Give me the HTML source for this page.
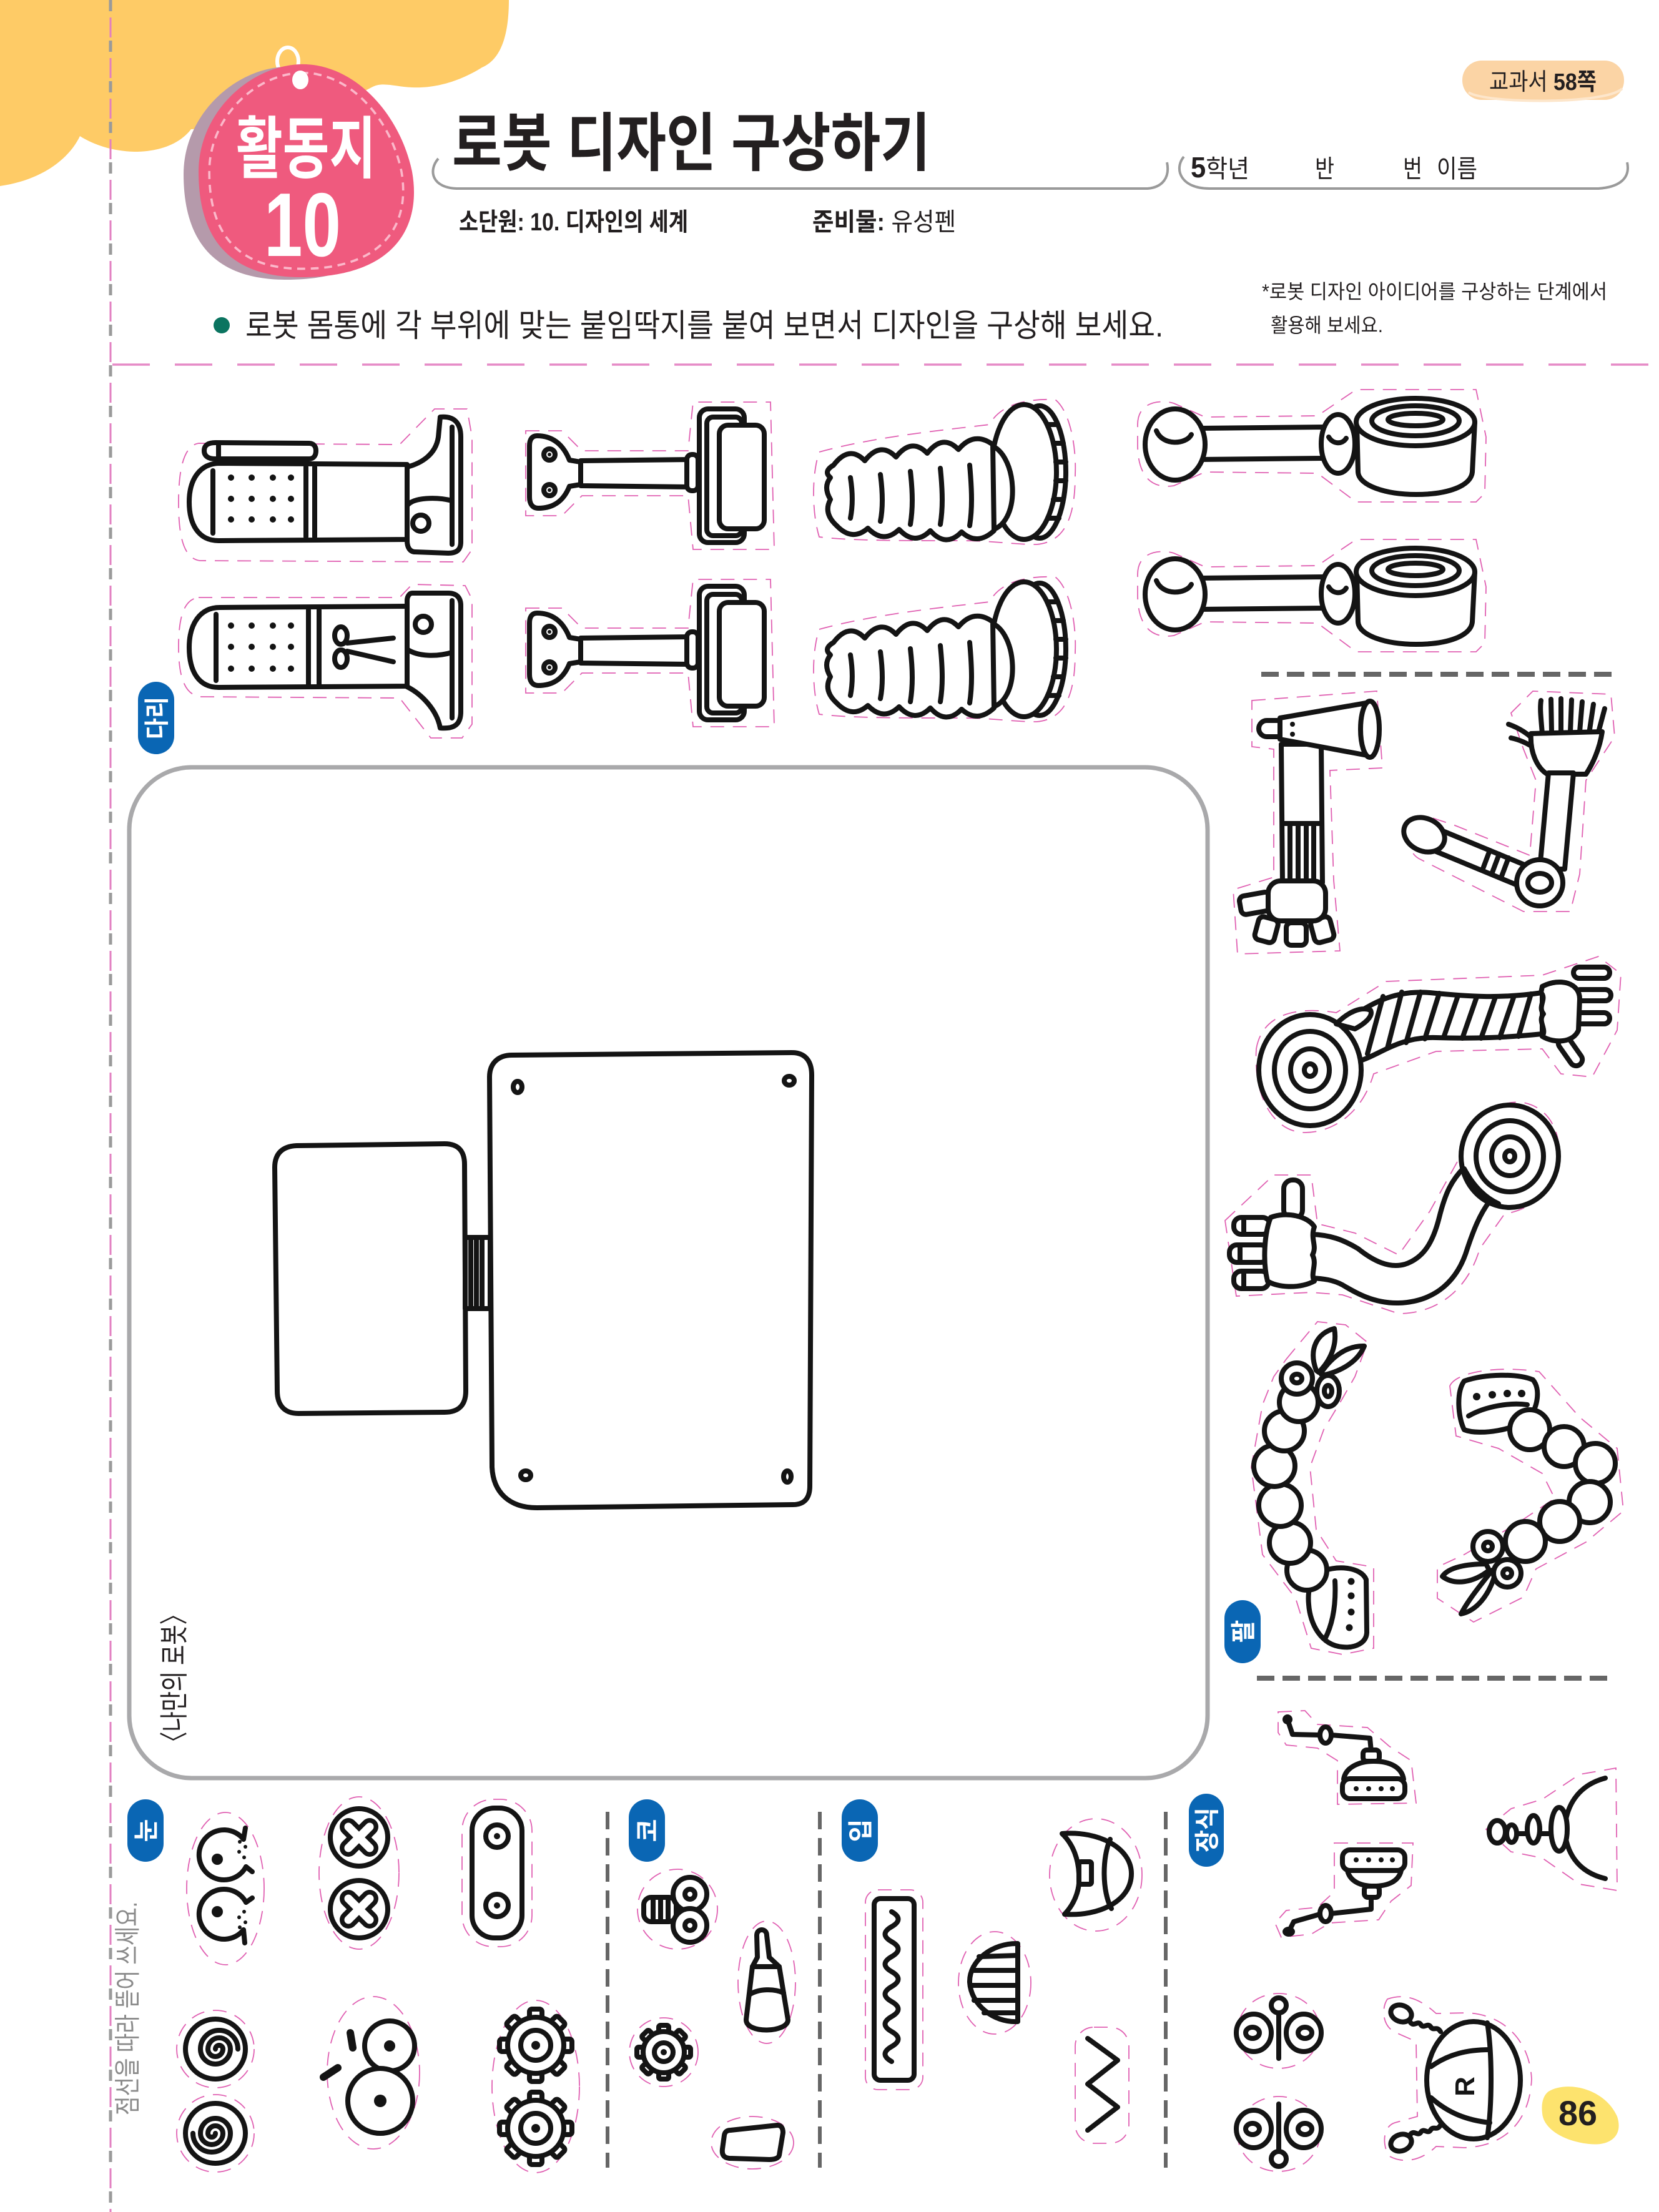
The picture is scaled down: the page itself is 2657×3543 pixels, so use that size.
<!DOCTYPE html>
<html><head><meta charset="utf-8">
<style>
html,body{margin:0;padding:0;background:#fff;}
body{width:2657px;height:3543px;overflow:hidden;position:relative;}
svg{position:absolute;left:0;top:0;}
.k{fill:none;stroke:#141414;stroke-width:8;stroke-linecap:round;stroke-linejoin:round}
.kw{fill:#fff;stroke:#141414;stroke-width:8;stroke-linecap:round;stroke-linejoin:round}
.pk{fill:none;stroke:#e060b2;stroke-width:1.8;stroke-dasharray:22 14}
.f{fill:#141414}
text{font-family:"Liberation Sans","Noto Sans CJK KR",sans-serif;}
</style></head><body>
<svg width="2657" height="3543" viewBox="0 0 2657 3543" xmlns="http://www.w3.org/2000/svg">

<!-- cloud -->
<path d="M0 0 H815 C815 55 803 95 772 108 C745 125 705 142 660 140 C632 139 612 130 595 140 L480 200 L306 207 C290 228 260 243 215 243 C180 242 150 232 128 218 C112 252 70 288 0 298 Z" fill="#fecb66"/>

<!-- vertical cut line -->
<line x1="177" y1="0" x2="177" y2="3543" stroke="#e27fc0" stroke-width="3" stroke-dasharray="32 33" stroke-dashoffset="-28"/>
<line x1="177" y1="0" x2="177" y2="3543" stroke="#9a9a9a" stroke-width="5" stroke-dasharray="18 47"/>

<!-- tag -->
<ellipse cx="461" cy="98" rx="17" ry="22" fill="none" stroke="#fff" stroke-width="6"/>
<path d="M480 103 C565 100 640 180 660 275 C676 365 630 445 480 444 C365 443 318 380 318 275 C318 180 400 106 480 103 Z" fill="#b59aab" transform="translate(-24 4)"/>
<path d="M480 103 C565 100 640 180 660 275 C676 365 630 445 480 444 C365 443 318 380 318 275 C318 180 400 106 480 103 Z" fill="#ef5a7e"/>
<path d="M480 103 C565 100 640 180 660 275 C676 365 630 445 480 444 C365 443 318 380 318 275 C318 180 400 106 480 103 Z" fill="none" stroke="#fbb8ca" stroke-width="4" stroke-dasharray="14 10" transform="translate(490 275) scale(0.9 0.92) translate(-490 -275)"/>
<ellipse cx="481" cy="128" rx="13" ry="15" fill="#fff"/>
<text x="378" y="276" font-size="108" font-weight="700" fill="#fff" textLength="224" lengthAdjust="spacingAndGlyphs">활동지</text>
<text x="423" y="410" font-size="145" font-weight="700" fill="#fff" textLength="123" lengthAdjust="spacingAndGlyphs">10</text>

<!-- title -->
<text x="724" y="265" font-size="102" font-weight="700" fill="#231f20" textLength="766" lengthAdjust="spacingAndGlyphs">로봇 디자인 구상하기</text>
<path d="M702 254 C686 272 690 302 735 302 L1838 302 C1862 300 1874 284 1869 260" fill="none" stroke="#9a9a9a" stroke-width="4"/>
<path d="M1896 251 C1880 270 1890 302 1937 302 L2560 302 C2590 300 2612 288 2606 260" fill="none" stroke="#9a9a9a" stroke-width="4"/>
<text x="1907" y="284" font-size="40" fill="#231f20" textLength="94" lengthAdjust="spacingAndGlyphs"><tspan font-weight="700" font-size="46">5</tspan>학년</text>
<text x="2106" y="284" font-size="40" fill="#231f20" textLength="31" lengthAdjust="spacingAndGlyphs">반</text>
<text x="2247" y="284" font-size="40" fill="#231f20" textLength="31" lengthAdjust="spacingAndGlyphs">번</text>
<text x="2301" y="284" font-size="40" fill="#231f20" textLength="65" lengthAdjust="spacingAndGlyphs">이름</text>

<!-- badge -->
<rect x="2342" y="97" width="259" height="63" rx="31" fill="#fbd4a5"/>
<path d="M2352 148 C2380 166 2570 168 2598 142" fill="none" stroke="#fde6cb" stroke-width="4"/>
<text x="2385" y="144" font-size="38" fill="#231f20" textLength="172" lengthAdjust="spacingAndGlyphs">교과서 <tspan font-weight="700">58쪽</tspan></text>

<!-- subtitle -->
<text x="735" y="369" font-size="40" font-weight="700" fill="#231f20" textLength="367" lengthAdjust="spacingAndGlyphs">소단원: 10. 디자인의 세계</text>
<text x="1301" y="369" font-size="40" fill="#231f20" textLength="230" lengthAdjust="spacingAndGlyphs"><tspan font-weight="700">준비물:</tspan> 유성펜</text>

<!-- instruction -->
<circle cx="355" cy="521" r="13" fill="#0b7460"/>
<text x="393" y="539" font-size="51" fill="#231f20" textLength="1470" lengthAdjust="spacingAndGlyphs">로봇 몸통에 각 부위에 맞는 붙임딱지를 붙여 보면서 디자인을 구상해 보세요.</text>
<text x="2021" y="478" font-size="32" fill="#231f20" textLength="553" lengthAdjust="spacingAndGlyphs">*로봇 디자인 아이디어를 구상하는 단계에서</text>
<text x="2035" y="532" font-size="32" fill="#231f20" textLength="180" lengthAdjust="spacingAndGlyphs">활용해 보세요.</text>

<line x1="180" y1="584" x2="2657" y2="584" stroke="#e58ac6" stroke-width="3.5" stroke-dasharray="60 40"/>

<!-- ===== LEGS ===== -->
<!-- leg 1 -->
<path class="pk" d="M318 710 L640 712 L696 655 L748 655 L756 700 L756 880 L742 900 L320 898 C294 894 286 860 286 805 C286 752 294 714 318 710 Z"/>
<path class="kw" d="M327 722 C327 712 335 709 345 709 L495 710 C503 710 506 716 506 722 C506 730 502 735 495 735 L345 735 C333 735 327 730 327 722 Z"/>
<line class="k" x1="350" y1="711" x2="350" y2="734" stroke-width="5"/>
<path class="kw" d="M352 742 L652 744 L652 864 L350 866 C318 866 303 840 303 804 C303 768 320 742 352 742 Z"/>
<line class="k" x1="341" y1="754" x2="341" y2="854"/>
<line class="k" x1="490" y1="748" x2="490" y2="860"/>
<line class="k" x1="504" y1="748" x2="504" y2="860"/>
<path class="kw" d="M705 668 C728 666 738 678 738 700 L738 868 C738 880 732 886 718 886 L665 884 C656 884 652 876 652 866 L652 748 C675 742 698 728 702 700 Z"/>
<line class="k" x1="724" y1="684" x2="724" y2="872"/>
<path class="k" d="M652 810 C662 796 700 796 724 802"/>
<circle class="k" cx="674" cy="838" r="13"/>
<g class="f"><circle cx="370" cy="765" r="5"/><circle cx="403" cy="765" r="5"/><circle cx="437" cy="765" r="5"/><circle cx="466" cy="765" r="5"/>
<circle cx="370" cy="799" r="5"/><circle cx="403" cy="799" r="5"/><circle cx="437" cy="799" r="5"/><circle cx="466" cy="799" r="5"/>
<circle cx="370" cy="832" r="5"/><circle cx="403" cy="832" r="5"/><circle cx="437" cy="832" r="5"/><circle cx="466" cy="832" r="5"/></g>

<!-- leg 2 -->
<path class="pk" d="M318 957 L640 957 L660 936 L745 938 L756 960 L756 1160 L740 1182 L690 1182 L640 1118 L320 1116 C294 1112 286 1080 286 1036 C286 990 294 960 318 957 Z"/>
<path class="kw" d="M352 973 L652 971 L652 1099 L350 1101 C318 1101 303 1075 303 1037 C303 1000 320 973 352 973 Z"/>
<path class="kw" d="M660 950 L718 950 C732 950 738 958 738 970 L738 1140 C738 1160 728 1168 705 1166 C700 1138 676 1112 652 1100 L652 962 C652 955 656 950 660 950 Z"/>
<line class="k" x1="724" y1="962" x2="724" y2="1150"/>
<circle class="k" cx="678" cy="1000" r="13"/>
<path class="k" d="M652 1040 C670 1052 700 1052 724 1045"/>
<line class="k" x1="346" y1="984" x2="346" y2="1090"/>
<line class="k" x1="494" y1="977" x2="494" y2="1097"/>
<line class="k" x1="511" y1="977" x2="511" y2="1097"/>
<ellipse class="k" cx="546" cy="1018" rx="10" ry="14" stroke-width="5"/>
<ellipse class="k" cx="546" cy="1055" rx="10" ry="14" stroke-width="5"/>
<path class="k" d="M556 1030 L630 1022 M556 1043 L630 1060" stroke-width="5"/>
<g class="f"><circle cx="370" cy="1002" r="5"/><circle cx="403" cy="1002" r="5"/><circle cx="437" cy="1002" r="5"/><circle cx="466" cy="1002" r="5"/>
<circle cx="370" cy="1036" r="5"/><circle cx="403" cy="1036" r="5"/><circle cx="437" cy="1036" r="5"/><circle cx="466" cy="1036" r="5"/>
<circle cx="370" cy="1071" r="5"/><circle cx="403" cy="1071" r="5"/><circle cx="437" cy="1071" r="5"/><circle cx="466" cy="1071" r="5"/></g>

<!-- leg 3 & 4 T-bars -->
<g id="tbar">
<path class="pk" d="M842 690 L900 690 L932 722 L1102 722 L1110 644 L1234 644 L1240 880 L1110 880 L1102 794 L932 794 L900 826 L842 826 Z"/>
<path class="kw" d="M860 698 C885 698 902 712 912 737 L930 740 L930 776 L912 779 C902 804 885 814 862 814 C852 814 848 806 848 796 L848 714 C848 704 852 698 860 698 Z"/>
<circle class="k" cx="880" cy="728" r="9" stroke-width="5"/><circle class="f" cx="880" cy="728" r="3"/>
<circle class="k" cx="880" cy="785" r="9" stroke-width="5"/><circle class="f" cx="880" cy="785" r="3"/>
<path class="kw" d="M930 738 L1106 736 L1106 780 L930 778 Z"/>
<rect class="kw" x="1100" y="728" width="18" height="58" rx="8"/>
<rect class="kw" x="1120" y="655" width="72" height="214" rx="14"/>
<rect class="k" x="1132" y="668" width="56" height="190" rx="10" stroke-width="5"/>
<rect class="kw" x="1152" y="681" width="72" height="166" rx="14"/>
</g>
<use href="#tbar" transform="translate(0 284)"/>

<!-- leg 5 & 6 bellows -->
<g id="bell">
<path class="pk" d="M1312 724 C1400 700 1500 690 1585 680 C1600 650 1640 638 1690 640 C1715 660 1724 720 1722 760 C1722 820 1710 868 1660 872 C1620 872 1590 866 1540 866 C1440 866 1360 866 1312 860 C1300 820 1300 760 1312 724 Z"/>
<ellipse class="kw" cx="1665" cy="756" rx="42" ry="106"/>
<ellipse class="kw" cx="1640" cy="756" rx="52" ry="108"/>
<path class="k" d="M1677 680 L1694 680 M1687 710 L1703 710 M1691 740 L1707 740 M1691 770 L1707 770 M1687 800 L1703 800 M1678 830 L1696 830" stroke-width="5"/>
<path class="kw" d="M1580 712 C1630 716 1640 845 1582 850 Z"/>
<path class="kw" d="M1335 745 Q1360 712 1385 738 Q1410 706 1435 732 Q1460 700 1485 726 Q1510 694 1535 720 Q1560 690 1590 712 L1592 850 Q1565 875 1540 852 Q1515 878 1490 850 Q1465 875 1440 848 Q1415 872 1390 846 Q1365 868 1340 842 Q1318 822 1330 800 Q1318 780 1330 765 Q1318 755 1335 745 Z"/>
<path class="k" d="M1362 765 C1366 790 1366 810 1362 830 M1410 760 C1414 790 1414 815 1410 835 M1458 755 C1462 790 1462 815 1458 840 M1506 750 C1510 790 1510 815 1506 840 M1553 745 C1557 790 1557 815 1553 842"/>
</g>
<use href="#bell" transform="translate(0 284)"/>

<!-- arms (rod + cylinder) -->
<g id="rodarm">
<path class="pk" d="M1822 680 C1822 642 1860 640 1880 646 L1930 668 L2110 666 L2172 624 L2364 624 L2380 700 L2378 790 L2364 804 L2172 804 L2110 758 L1930 756 L1880 778 C1842 784 1822 760 1822 712 Z"/>
<path class="kw" d="M1920 686 L2120 684 L2120 734 L1920 736 Z"/>
<ellipse class="kw" cx="1882" cy="712" rx="48" ry="57"/>
<path class="k" d="M1852 690 C1862 715 1900 712 1908 696" stroke-width="5"/>
<ellipse class="kw" cx="2143" cy="711" rx="27" ry="47"/>
<path class="k" d="M2128 700 C2135 712 2150 712 2156 702" stroke-width="5"/>
<path class="kw" d="M2173 676 L2175 756 C2176 778 2220 792 2268 792 C2320 792 2356 778 2358 756 L2362 676 Z"/>
<ellipse class="kw" cx="2267" cy="676" rx="95" ry="38"/>
<ellipse class="k" cx="2267" cy="674" rx="70" ry="24"/>
<ellipse class="k" cx="2267" cy="672" rx="44" ry="10" stroke-width="6"/>
</g>
<use href="#rodarm" transform="translate(0 240)"/>

<line x1="2020" y1="1080" x2="2585" y2="1080" stroke="#666" stroke-width="8" stroke-dasharray="28 13"/>

<!-- Arm A megaphone -->
<path class="pk" d="M2005 1122 L2205 1107 L2214 1230 L2130 1234 L2136 1410 L2146 1523 L1982 1528 L1975 1425 L2040 1405 L2040 1200 L2005 1196 Z"/>
<path class="kw" d="M2052 1192 L2054 1414 L2118 1414 L2116 1192 Z"/>
<path class="k" d="M2054 1319 L2116 1319 M2066 1322 L2066 1412 M2079 1322 L2079 1412 M2092 1322 L2092 1412 M2104 1322 L2104 1412" stroke-width="6"/>
<rect class="kw" x="2016" y="1154" width="42" height="26" rx="13"/>
<path class="kw" d="M2050 1150 L2188 1126 L2190 1210 L2050 1184 Z"/>
<ellipse class="kw" cx="2194" cy="1168" rx="15" ry="45"/>
<circle class="f" cx="2070" cy="1160" r="4"/><circle class="f" cx="2070" cy="1176" r="4"/>
<rect class="kw" x="1986" y="1432" width="50" height="30" rx="8" transform="rotate(-10 2010 1447)"/>
<rect class="kw" x="2012" y="1470" width="32" height="38" rx="8" transform="rotate(15 2028 1490)"/>
<rect class="kw" x="2060" y="1478" width="32" height="36" rx="8"/>
<rect class="kw" x="2102" y="1470" width="32" height="38" rx="8" transform="rotate(-15 2118 1490)"/>
<rect class="kw" x="2031" y="1411" width="92" height="64" rx="20"/>

<!-- Arm B brush -->
<path class="pk" d="M2420 1142 L2455 1107 L2580 1112 L2586 1180 L2540 1250 L2530 1400 L2515 1460 L2440 1460 L2272 1375 C2247 1360 2252 1312 2285 1307 L2330 1322 L2450 1370 L2460 1250 L2440 1200 Z"/>
<path class="k" d="M2470 1175 C2468 1150 2466 1135 2468 1122 M2485 1172 L2484 1120 M2500 1172 L2500 1119 M2515 1172 L2517 1121 M2530 1172 L2534 1124 M2545 1175 L2552 1128 M2558 1180 L2570 1135"/>
<path class="k" d="M2462 1192 C2450 1175 2430 1165 2416 1160 M2462 1202 C2448 1190 2430 1184 2420 1182"/>
<path class="kw" d="M2452 1175 L2566 1172 C2562 1200 2550 1225 2540 1240 L2478 1240 C2462 1230 2450 1205 2452 1175 Z"/>
<path class="kw" d="M2480 1238 L2520 1238 L2506 1392 L2466 1392 Z"/>
<path class="kw" d="M2306 1329 L2446 1387 L2433 1419 L2293 1361 Z"/>
<path class="k" d="M2386 1362 L2374 1394 M2401 1368 L2389 1400 M2416 1374 L2404 1406" stroke-width="5"/>
<ellipse class="kw" cx="2281" cy="1337" rx="34" ry="26" transform="rotate(25 2281 1337)"/>
<circle class="kw" cx="2466" cy="1414" r="37"/>
<ellipse class="k" cx="2466" cy="1414" rx="19" ry="15"/>

<!-- Arm C striped -->
<path class="pk" d="M2012 1680 C2022 1622 2080 1612 2140 1622 L2220 1572 L2470 1562 L2560 1532 L2596 1560 L2590 1650 L2550 1725 L2500 1720 L2470 1680 L2300 1684 L2200 1720 C2180 1788 2130 1814 2090 1814 C2042 1814 2007 1760 2012 1680 Z"/>
<path class="kw" d="M2150 1640 C2190 1610 2230 1585 2290 1590 C2350 1596 2400 1600 2470 1590 L2470 1656 C2410 1662 2360 1664 2300 1662 C2240 1660 2210 1690 2175 1700 Z"/>
<path class="k" d="M2215 1596 L2190 1688 M2245 1589 L2222 1679 M2275 1589 L2252 1670 M2305 1591 L2282 1664 M2335 1595 L2312 1662 M2365 1597 L2342 1663 M2395 1597 L2372 1663 M2425 1595 L2402 1662 M2452 1592 L2432 1660"/>
<ellipse class="kw" cx="2098" cy="1714" rx="82" ry="89"/>
<ellipse class="k" cx="2098" cy="1714" rx="57" ry="62"/>
<ellipse class="k" cx="2098" cy="1714" rx="31" ry="34"/>
<ellipse class="k" cx="2098" cy="1714" rx="9" ry="10"/>
<path class="kw" d="M2140 1640 C2160 1620 2180 1612 2195 1618 C2200 1628 2185 1640 2170 1648 Z"/>
<rect class="kw" x="2520" y="1549" width="58" height="18" rx="9"/>
<rect class="kw" x="2522" y="1585" width="58" height="18" rx="9"/>
<rect class="kw" x="2520" y="1622" width="58" height="18" rx="9"/>
<rect class="kw" x="2505" y="1658" width="20" height="52" rx="10" transform="rotate(-35 2515 1684)"/>
<path class="kw" d="M2470 1580 C2500 1565 2530 1575 2530 1600 L2528 1650 C2520 1670 2490 1672 2470 1660 C2478 1648 2462 1636 2472 1624 C2462 1612 2478 1600 2468 1590 Z"/>

<!-- Arm D wave -->
<path class="pk" d="M1962 1955 L2040 1882 L2100 1882 L2110 1960 L2170 1975 L2240 2010 L2290 1940 L2340 1850 C2350 1792 2400 1760 2440 1766 C2490 1776 2504 1830 2494 1870 C2480 1920 2440 1940 2410 1944 L2370 2000 C2350 2068 2300 2104 2240 2104 L2150 2074 L2100 2070 L1980 2076 Z"/>
<path class="kw" d="M2100 1977 C2130 1978 2150 1985 2175 2000 C2200 2020 2225 2032 2250 2025 C2280 2015 2295 1990 2305 1950 C2315 1910 2325 1890 2345 1870 L2385 1925 C2370 1945 2360 1970 2350 2000 C2335 2050 2300 2085 2240 2087 C2200 2088 2170 2070 2150 2058 C2135 2050 2120 2048 2100 2047 Z"/>
<ellipse class="kw" cx="2418" cy="1852" rx="78" ry="82"/>
<ellipse class="k" cx="2418" cy="1852" rx="54" ry="57"/>
<ellipse class="k" cx="2418" cy="1852" rx="29" ry="31"/>
<ellipse class="k" cx="2418" cy="1852" rx="8" ry="9"/>
<path class="k" d="M2345 1872 C2360 1900 2378 1918 2400 1928"/>
<rect class="kw" x="2056" y="1890" width="30" height="62" rx="14"/>
<rect class="kw" x="1976" y="1950" width="58" height="27" rx="12"/>
<rect class="kw" x="1969" y="1994" width="62" height="28" rx="12"/>
<rect class="kw" x="1976" y="2036" width="56" height="28" rx="12"/>
<path class="k" d="M1992 1952 L1992 1975 M1986 1996 L1986 2020 M1992 2038 L1992 2062" stroke-width="5"/>
<path class="kw" d="M2035 1950 C2060 1940 2095 1948 2105 1965 C2098 1985 2110 1995 2102 2010 C2110 2025 2098 2040 2105 2052 C2080 2065 2045 2062 2030 2052 C2022 2020 2025 1975 2035 1950 Z"/>

<!-- Bead arm E -->
<path class="pk" d="M2060 2177 L2110 2117 L2155 2122 L2190 2150 L2170 2205 L2150 2240 L2120 2290 L2098 2350 L2108 2450 L2140 2500 L2200 2510 L2200 2640 L2150 2650 L2100 2640 L2075 2560 L2022 2490 L2004 2350 L2022 2250 L2040 2205 Z"/>
<path class="kw" d="M2110 2520 C2140 2505 2180 2510 2188 2530 L2189 2615 C2188 2632 2170 2640 2150 2638 C2115 2635 2098 2600 2096 2570 C2094 2550 2098 2530 2110 2520 Z"/>
<path class="k" d="M2138 2532 C2140 2570 2135 2600 2122 2625"/>
<g class="f"><circle cx="2164" cy="2533" r="5.5"/><circle cx="2164" cy="2556" r="5.5"/><circle cx="2164" cy="2582" r="5.5"/><circle cx="2161" cy="2607" r="5.5"/></g>
<circle class="kw" cx="2093" cy="2515" r="32"/>
<circle class="kw" cx="2066" cy="2471" r="33"/>
<circle class="kw" cx="2050" cy="2411" r="34"/>
<circle class="kw" cx="2041" cy="2348" r="33"/>
<circle class="kw" cx="2057" cy="2292" r="32"/>
<circle class="kw" cx="2080" cy="2246" r="31"/>
<path class="kw" d="M2108 2195 C2095 2160 2110 2135 2137 2128 C2142 2155 2130 2180 2112 2198 Z"/>
<path class="kw" d="M2115 2200 C2135 2170 2160 2155 2185 2156 C2175 2180 2150 2196 2118 2203 Z"/>
<circle class="kw" cx="2077" cy="2208" r="25"/>
<ellipse class="k" cx="2077" cy="2208" rx="8" ry="7"/>
<ellipse class="kw" cx="2127" cy="2228" rx="18" ry="25"/>
<ellipse class="k" cx="2127" cy="2228" rx="6" ry="9"/>

<!-- Bead arm F -->
<path class="pk" d="M2322 2220 C2332 2197 2400 2187 2465 2197 L2530 2270 L2590 2320 L2600 2420 L2540 2470 L2460 2513 L2440 2558 L2360 2598 L2302 2560 L2302 2510 L2345 2490 L2430 2440 L2490 2400 L2470 2360 L2400 2320 L2332 2300 Z"/>
<path class="kw" d="M2345 2212 C2380 2200 2430 2200 2455 2210 C2468 2225 2462 2255 2450 2270 C2430 2290 2370 2300 2345 2290 C2335 2270 2332 2230 2345 2212 Z"/>
<g class="f"><circle cx="2365" cy="2237" r="6"/><circle cx="2390" cy="2234" r="6"/><circle cx="2414" cy="2232" r="6"/><circle cx="2437" cy="2232" r="6"/></g>
<path class="k" d="M2352 2268 C2380 2252 2420 2246 2446 2250"/>
<circle class="kw" cx="2450" cy="2290" r="32"/>
<circle class="kw" cx="2505" cy="2317" r="32"/>
<circle class="kw" cx="2555" cy="2344" r="32"/>
<circle class="kw" cx="2546" cy="2406" r="33"/>
<circle class="kw" cx="2498" cy="2437" r="32"/>
<circle class="kw" cx="2443" cy="2469" r="32"/>
<path class="kw" d="M2380 2505 C2350 2505 2320 2510 2310 2525 C2330 2540 2360 2535 2385 2515 Z"/>
<path class="kw" d="M2390 2515 C2370 2540 2350 2565 2340 2585 C2365 2580 2385 2555 2395 2520 Z"/>
<circle class="kw" cx="2383" cy="2477" r="24"/>
<circle class="k" cx="2383" cy="2477" r="7"/>
<circle class="kw" cx="2414" cy="2520" r="22"/>
<circle class="k" cx="2414" cy="2520" r="7"/>

<line x1="2013" y1="2688" x2="2582" y2="2688" stroke="#666" stroke-width="8" stroke-dasharray="28 13"/>

<!-- labels -->
<g transform="translate(250 1150)"><rect x="-29" y="-58" width="58" height="116" rx="29" fill="#0a66b4"/><text transform="rotate(-90)" x="0" y="15" text-anchor="middle" font-size="40" font-weight="700" fill="#fff" textLength="68" lengthAdjust="spacingAndGlyphs">다리</text></g>
<g transform="translate(1990 2613)"><rect x="-29" y="-50" width="58" height="101" rx="29" fill="#0a66b4"/><text transform="rotate(-90)" x="0" y="15" text-anchor="middle" font-size="40" font-weight="700" fill="#fff">팔</text></g>
<g transform="translate(233 2932)"><rect x="-29" y="-50" width="58" height="100" rx="29" fill="#0a66b4"/><text transform="rotate(-90)" x="0" y="15" text-anchor="middle" font-size="40" font-weight="700" fill="#fff">눈</text></g>
<g transform="translate(1036 2932)"><rect x="-29" y="-50" width="58" height="100" rx="29" fill="#0a66b4"/><text transform="rotate(-90)" x="0" y="15" text-anchor="middle" font-size="40" font-weight="700" fill="#fff">코</text></g>
<g transform="translate(1377 2932)"><rect x="-29" y="-50" width="58" height="100" rx="29" fill="#0a66b4"/><text transform="rotate(-90)" x="0" y="15" text-anchor="middle" font-size="40" font-weight="700" fill="#fff">입</text></g>
<g transform="translate(1932 2931)"><rect x="-28" y="-58" width="56" height="117" rx="28" fill="#0a66b4"/><text transform="rotate(-90)" x="0" y="15" text-anchor="middle" font-size="40" font-weight="700" fill="#fff" textLength="72" lengthAdjust="spacingAndGlyphs">장식</text></g>

<!-- big frame -->
<rect x="207" y="1229" width="1727" height="1619" rx="100" fill="none" stroke="#a9a9ab" stroke-width="7"/>
<text transform="translate(295 2688) rotate(-90)" x="0" y="0" text-anchor="middle" font-size="46" fill="#231f20" textLength="241" lengthAdjust="spacingAndGlyphs">〈나만의 로봇〉</text>

<!-- robot body -->
<path class="kw" d="M475 1835 L712 1832 C735 1832 744 1845 744 1865 L746 2228 C746 2250 735 2262 712 2262 L478 2264 C455 2264 444 2250 444 2228 L440 1870 C440 1848 452 1836 475 1835 Z" stroke-width="7"/>
<path class="kw" d="M745 1982 L785 1982 L785 2096 L745 2096 Z" stroke-width="6"/>
<path class="k" d="M754 1985 L754 2093 M763 1985 L763 2093 M772 1985 L772 2093" stroke-width="4"/>
<path class="kw" d="M820 1690 L1268 1686 C1290 1686 1300 1700 1300 1722 L1297 2380 C1297 2400 1288 2410 1270 2410 L860 2415 C815 2415 790 2390 788 2350 L784 1725 C784 1703 798 1690 820 1690 Z" stroke-width="7"/>
<ellipse class="k" cx="829" cy="1741" rx="7" ry="9" stroke-width="5"/>
<ellipse class="k" cx="1264" cy="1731" rx="8" ry="7" stroke-width="5"/>
<ellipse class="k" cx="842" cy="2363" rx="8" ry="7" stroke-width="5"/>
<ellipse class="k" cx="1261" cy="2365" rx="6" ry="9" stroke-width="5"/>

<!-- bottom dashed separators -->
<g stroke="#666" stroke-width="6" stroke-dasharray="28 14">
<line x1="973" y1="2902" x2="973" y2="3472"/>
<line x1="1313" y1="2902" x2="1313" y2="3472"/>
<line x1="1867" y1="2902" x2="1867" y2="3472"/>
</g>
<text transform="translate(219 3217) rotate(-90)" x="0" y="0" text-anchor="middle" font-size="42" fill="#8a8a8a" textLength="342" lengthAdjust="spacingAndGlyphs">점선을 따라 뜯어 쓰세요.</text>

<!-- EYES -->
<ellipse class="pk" cx="361" cy="3025" rx="62" ry="122"/>
<path class="kw" d="M390 2946 A40 40 0 1 0 394 2990"/>
<path class="k" d="M390 2946 L393 2928 M394 2990 L404 2998"/>
<circle class="f" cx="348" cy="2978" r="9"/>
<g class="f"><circle cx="384" cy="2950" r="3"/><circle cx="393" cy="2958" r="3"/><circle cx="383" cy="2966" r="3"/><circle cx="391" cy="2975" r="3"/></g>
<path class="kw" d="M394 3047 A40 40 0 1 0 390 3091"/>
<path class="k" d="M394 3047 L404 3040 M390 3091 L392 3112"/>
<circle class="f" cx="348" cy="3062" r="9"/>
<g class="f"><circle cx="391" cy="3062" r="3"/><circle cx="383" cy="3071" r="3"/><circle cx="393" cy="3079" r="3"/><circle cx="384" cy="3087" r="3"/></g>

<ellipse class="pk" cx="575" cy="3000" rx="64" ry="122"/>
<circle class="kw" cx="575" cy="2943" r="46"/>
<path d="M558 2926 L592 2960 M592 2926 L558 2960" stroke="#141414" stroke-width="28" stroke-linecap="round"/>
<path d="M558 2926 L592 2960 M592 2926 L558 2960" stroke="#fff" stroke-width="13" stroke-linecap="round"/>
<circle class="kw" cx="575" cy="3058" r="46"/>
<path d="M558 3041 L592 3075 M592 3041 L558 3075" stroke="#141414" stroke-width="28" stroke-linecap="round"/>
<path d="M558 3041 L592 3075 M592 3041 L558 3075" stroke="#fff" stroke-width="13" stroke-linecap="round"/>

<rect class="pk" x="740" y="2882" width="112" height="236" rx="50"/>
<rect class="kw" x="756" y="2896" width="80" height="208" rx="36"/>
<circle class="k" cx="796" cy="2941" r="18"/><circle class="f" cx="796" cy="2941" r="5"/>
<circle class="k" cx="796" cy="3052" r="18"/><circle class="f" cx="796" cy="3052" r="5"/>

<circle class="pk" cx="345" cy="3282" r="62"/>
<circle class="kw" cx="345" cy="3282" r="48"/>
<path class="k" d="M345 3282 A6 6 0 0 1 357 3282 A12 12 0 0 1 333 3282 A18 18 0 0 1 369 3282 A24 24 0 0 1 321 3282 A30 30 0 0 1 381 3282" stroke-width="6"/>
<circle class="pk" cx="345" cy="3417" r="62"/>
<circle class="kw" cx="345" cy="3417" r="48"/>
<path class="k" d="M345 3417 A6 6 0 0 1 333 3417 A12 12 0 0 1 357 3417 A18 18 0 0 1 321 3417 A24 24 0 0 1 369 3417 A30 30 0 0 1 309 3417" stroke-width="6"/>

<ellipse class="pk" cx="598" cy="3320" rx="74" ry="122"/>
<circle class="kw" cx="624" cy="3277" r="40"/>
<circle class="f" cx="624" cy="3277" r="9"/>
<circle class="kw" cx="609" cy="3365" r="52"/>
<circle class="f" cx="609" cy="3365" r="10"/>
<path d="M561 3256 L565 3280 M518 3327 L541 3312" stroke="#141414" stroke-width="12" stroke-linecap="round"/>

<ellipse class="pk" cx="858" cy="3342" rx="70" ry="138"/>
<g id="gear" transform="translate(858 3276)" class="kw">
<rect x="-10" y="-58" width="20" height="20" rx="4"/>
<rect x="-10" y="-58" width="20" height="20" rx="4" transform="rotate(45)"/>
<rect x="-10" y="-58" width="20" height="20" rx="4" transform="rotate(90)"/>
<rect x="-10" y="-58" width="20" height="20" rx="4" transform="rotate(135)"/>
<rect x="-10" y="-58" width="20" height="20" rx="4" transform="rotate(180)"/>
<rect x="-10" y="-58" width="20" height="20" rx="4" transform="rotate(225)"/>
<rect x="-10" y="-58" width="20" height="20" rx="4" transform="rotate(270)"/>
<rect x="-10" y="-58" width="20" height="20" rx="4" transform="rotate(315)"/>
<circle r="45"/>
<circle r="24" fill="none"/>
<circle r="7" fill="#141414" stroke="none"/>
</g>
<use href="#gear" transform="translate(0 133)"/>

<!-- NOSE -->
<ellipse class="pk" cx="1085" cy="3058" rx="64" ry="64"/>
<rect class="kw" x="1031" y="3039" width="52" height="39" rx="12"/>
<path class="k" d="M1046 3042 L1046 3075 M1058 3042 L1058 3075 M1070 3042 L1070 3075" stroke-width="5"/>
<circle class="kw" cx="1105" cy="3034" r="27"/>
<circle class="kw" cx="1105" cy="3084" r="27"/>
<circle class="k" cx="1105" cy="3034" r="8" stroke-width="5"/>
<circle class="k" cx="1105" cy="3084" r="8" stroke-width="5"/>

<ellipse class="pk" cx="1228" cy="3175" rx="46" ry="98"/>
<path class="kw" d="M1212 3100 C1212 3088 1228 3088 1228 3100 L1232 3135 L1248 3150 L1262 3235 C1262 3256 1195 3258 1195 3235 L1205 3150 L1213 3135 Z"/>
<path class="k" d="M1205 3150 L1248 3150 M1200 3195 C1215 3185 1240 3185 1255 3192"/>

<circle class="pk" cx="1063" cy="3287" r="55"/>
<g transform="translate(1063 3287)" class="kw">
<rect x="-8" y="-43" width="16" height="16" rx="3"/>
<rect x="-8" y="-43" width="16" height="16" rx="3" transform="rotate(45)"/>
<rect x="-8" y="-43" width="16" height="16" rx="3" transform="rotate(90)"/>
<rect x="-8" y="-43" width="16" height="16" rx="3" transform="rotate(135)"/>
<rect x="-8" y="-43" width="16" height="16" rx="3" transform="rotate(180)"/>
<rect x="-8" y="-43" width="16" height="16" rx="3" transform="rotate(225)"/>
<rect x="-8" y="-43" width="16" height="16" rx="3" transform="rotate(270)"/>
<rect x="-8" y="-43" width="16" height="16" rx="3" transform="rotate(315)"/>
<circle r="33"/>
<circle r="15" fill="none"/>
<circle r="5" fill="#141414" stroke="none"/>
</g>

<ellipse class="pk" cx="1205" cy="3432" rx="66" ry="42"/>
<path class="kw" d="M1170 3412 L1245 3404 C1252 3404 1254 3410 1254 3416 L1248 3452 C1247 3457 1240 3459 1232 3459 L1168 3457 C1158 3456 1156 3450 1157 3442 L1160 3420 C1161 3414 1165 3412 1170 3412 Z"/>

<!-- MOUTH -->
<rect class="pk" x="1386" y="3027" width="92" height="320" rx="20"/>
<rect class="kw" x="1400" y="3041" width="64" height="291" rx="10"/>
<path class="k" d="M1428 3062 c14 8 14 16 0 24 c-14 8 -14 16 0 24 c14 8 14 16 0 24 c-14 8 -14 16 0 24 c14 8 14 16 0 24 c-14 8 -14 16 0 24 c14 8 14 16 0 24 c-14 8 -14 16 0 24 c14 8 14 16 0 24 c-14 8 -14 16 0 24" stroke-width="6"/>

<ellipse class="pk" cx="1593" cy="3176" rx="58" ry="82"/>
<path class="kw" d="M1630 3113 L1630 3238 C1590 3240 1555 3210 1553 3175 C1552 3140 1590 3112 1630 3113 Z"/>
<path class="k" d="M1568 3134 L1630 3132 M1557 3156 L1630 3156 M1554 3180 L1630 3180 M1560 3204 L1630 3204 M1576 3224 L1630 3224" stroke-width="6"/>

<ellipse class="pk" cx="1755" cy="3003" rx="74" ry="90"/>
<path class="kw" d="M1701 2937 C1760 2932 1812 2960 1812 3001 C1812 3045 1760 3070 1705 3066 C1725 3045 1730 3020 1728 3001 C1727 2980 1720 2955 1701 2937 Z"/>
<path class="k" d="M1778 2946 C1765 2975 1765 3030 1780 3057"/>
<rect class="kw" x="1728" y="2982" width="20" height="36" rx="3" stroke-width="5"/>

<rect class="pk" x="1722" y="3247" width="86" height="186" rx="30"/>
<path class="k" d="M1742 3265 L1790 3300 L1742 3338 L1790 3375 L1742 3412" stroke-width="11"/>

<!-- DECORATIONS -->
<path class="pk" d="M2047 2742 L2090 2740 L2110 2762 L2190 2767 L2225 2797 L2260 2820 L2268 2888 L2142 2890 L2142 2820 L2110 2800 L2060 2795 L2047 2775 Z"/>
<circle class="f" cx="2062" cy="2754" r="8"/>
<path class="k" d="M2062 2754 L2070 2778 L2114 2779 M2132 2779 L2194 2784 L2196 2805" stroke-width="5"/>
<ellipse class="kw" cx="2123" cy="2779" rx="9" ry="13" stroke-width="5"/>
<rect class="kw" x="2183" y="2803" width="26" height="18" rx="6" stroke-width="6"/>
<path class="kw" d="M2152 2850 C2155 2830 2178 2821 2200 2821 C2225 2821 2245 2830 2248 2850 Z"/>
<rect class="kw" x="2150" y="2849" width="100" height="32" rx="12"/>
<g class="f"><circle cx="2172" cy="2865" r="4"/><circle cx="2192" cy="2865" r="4"/><circle cx="2212" cy="2865" r="4"/><circle cx="2230" cy="2865" r="4"/></g>

<path class="pk" d="M2137 2952 L2263 2952 L2260 3020 L2228 3045 L2208 3075 L2130 3080 L2100 3098 L2052 3103 L2042 3080 L2060 3060 L2110 3055 L2137 3030 Z"/>
<rect class="kw" x="2150" y="2963" width="100" height="33" rx="12"/>
<g class="f"><circle cx="2172" cy="2979" r="4"/><circle cx="2192" cy="2979" r="4"/><circle cx="2212" cy="2979" r="4"/><circle cx="2230" cy="2979" r="4"/></g>
<path class="kw" d="M2158 2996 C2162 3014 2180 3021 2200 3021 C2222 3021 2240 3014 2244 2996 Z"/>
<rect class="kw" x="2185" y="3021" width="24" height="18" rx="6" stroke-width="6"/>
<path class="k" d="M2196 3039 L2196 3058 L2132 3065 M2114 3066 L2072 3078 L2065 3092" stroke-width="5"/>
<ellipse class="kw" cx="2123" cy="3065" rx="9" ry="13" stroke-width="5"/>
<ellipse class="f" cx="2064" cy="3094" rx="10" ry="8"/>

<path class="pk" d="M2380 2930 L2420 2897 L2470 2882 L2530 2842 L2588 2832 L2590 3028 L2530 3018 L2470 2976 L2420 2966 Z"/>
<path class="k" d="M2571 2848 C2525 2860 2508 2895 2506 2930 C2508 2965 2525 2998 2571 3009"/>
<ellipse class="kw" cx="2398" cy="2934" rx="13" ry="18" stroke-width="6"/>
<ellipse class="kw" cx="2421" cy="2937" rx="8" ry="14" stroke-width="6"/>
<path class="k" d="M2430 2937 L2448 2937 M2466 2937 L2484 2937" stroke-width="6"/>
<ellipse class="kw" cx="2456" cy="2930" rx="10" ry="22" stroke-width="6"/>
<ellipse class="kw" cx="2497" cy="2930" rx="13" ry="35" stroke-width="6"/>

<ellipse class="pk" cx="2048" cy="3253" rx="66" ry="60"/>
<line class="k" x1="2048" y1="3222" x2="2048" y2="3297"/>
<circle class="kw" cx="2048" cy="3212" r="12" stroke-width="6"/>
<ellipse class="kw" cx="2008" cy="3256" rx="28" ry="30"/>
<ellipse class="k" cx="2006" cy="3256" rx="11" ry="9" stroke-width="5"/>
<ellipse class="kw" cx="2088" cy="3256" rx="28" ry="30"/>
<ellipse class="k" cx="2090" cy="3256" rx="11" ry="9" stroke-width="5"/>

<ellipse class="pk" cx="2048" cy="3418" rx="66" ry="60"/>
<line class="k" x1="2048" y1="3370" x2="2048" y2="3446"/>
<circle class="kw" cx="2048" cy="3458" r="12" stroke-width="6"/>
<ellipse class="kw" cx="2008" cy="3410" rx="28" ry="30"/>
<ellipse class="k" cx="2006" cy="3410" rx="11" ry="9" stroke-width="5"/>
<ellipse class="kw" cx="2088" cy="3410" rx="28" ry="30"/>
<ellipse class="k" cx="2090" cy="3410" rx="11" ry="9" stroke-width="5"/>

<path class="pk" d="M2222 3202 C2250 3192 2275 3202 2300 3225 L2350 3224 C2410 3227 2450 3270 2453 3330 C2450 3398 2410 3438 2345 3440 L2300 3438 C2280 3458 2250 3468 2224 3453 C2212 3430 2217 3405 2234 3400 L2270 3390 L2268 3270 L2234 3255 C2214 3245 2212 3217 2222 3202 Z"/>
<ellipse class="kw" cx="2244" cy="3225" rx="17" ry="13" transform="rotate(20 2244 3225)"/>
<path class="k" d="M2258 3238 c6 10 12 -2 17 4 c5 9 11 -3 16 4 c5 8 10 -2 16 8" stroke-width="6"/>
<ellipse class="kw" cx="2244" cy="3432" rx="17" ry="13" transform="rotate(-20 2244 3432)"/>
<path class="k" d="M2258 3420 c6 -10 12 2 17 -4 c5 -9 11 3 16 -4 c5 -8 10 2 16 -8" stroke-width="6"/>
<ellipse class="kw" cx="2360" cy="3332" rx="75" ry="94"/>
<path class="k" d="M2382 3240 C2390 3290 2390 3370 2382 3424"/>
<path class="k" d="M2292 3310 C2320 3290 2350 3283 2386 3283 M2292 3360 C2320 3385 2350 3396 2386 3400"/>
<text transform="translate(2348 3342) rotate(-90)" x="0" y="13" text-anchor="middle" font-size="44" font-weight="700" fill="#141414">R</text>

<!-- page number -->
<path d="M2480 3350 C2510 3332 2570 3345 2590 3390 C2600 3420 2580 3438 2545 3434 C2505 3430 2472 3410 2470 3385 C2468 3368 2472 3356 2480 3350 Z" fill="#fde36e"/>
<text x="2496" y="3404" font-size="56" font-weight="700" fill="#231f20" textLength="62" lengthAdjust="spacingAndGlyphs">86</text>

</svg>
</body></html>
